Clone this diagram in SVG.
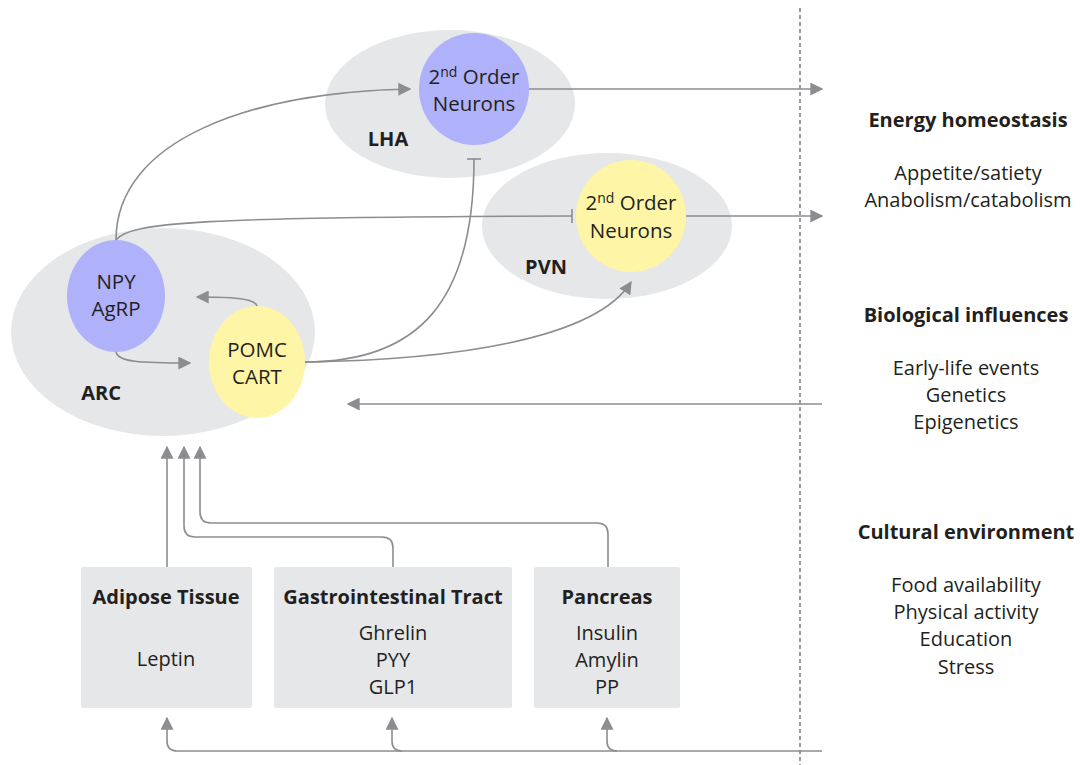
<svg xmlns="http://www.w3.org/2000/svg" width="1080" height="765" viewBox="0 0 1080 765">
<style>
text{font-family:"Open Sans","Noto Sans","Liberation Sans",sans-serif;fill:#231f20;font-size:20px;text-anchor:middle}
.b{font-weight:bold;font-size:20px}
.n{font-size:20.5px}
.region{fill:#e6e7e8}
.purple{fill:#b0b1fb}
.yellow{fill:#fef6a6}
.box{fill:#e6e7e8}
.c{fill:none;stroke:#8c8d90;stroke-width:1.6}
</style>
<defs>
<marker id="arL" viewBox="0 0 10 10" refX="9" refY="5" markerWidth="13" markerHeight="13" markerUnits="userSpaceOnUse" orient="auto"><path d="M0,0 L10,5 L0,10 z" fill="#8c8d90"/></marker>
<marker id="tee" viewBox="0 0 4 14" refX="2" refY="7" markerWidth="4" markerHeight="14" markerUnits="userSpaceOnUse" orient="auto"><path d="M2,0 L2,14" stroke="#8c8d90" stroke-width="1.6"/></marker>
</defs>
<line x1="800" y1="8" x2="800" y2="765" stroke="#9a9b9e" stroke-width="2" stroke-dasharray="4,3"/>
<g id="LHA"><ellipse class="region" cx="450" cy="104" rx="125" ry="74"/><text class="b" x="388" y="146">LHA</text></g>
<g id="PVN"><ellipse class="region" cx="607" cy="226" rx="125" ry="73"/><text class="b" x="546" y="274">PVN</text></g>
<g id="ARC"><ellipse class="region" cx="163" cy="332" rx="152" ry="104"/><text class="b" x="101" y="400">ARC</text></g>
<g id="LHA-neurons"><ellipse class="purple" cx="474" cy="89" rx="55" ry="56"/><text class="n" x="474" y="84">2<tspan dy="-7" font-size="14">nd</tspan><tspan dy="7"> Order</tspan></text><text class="n" x="474" y="111">Neurons</text></g>
<g id="PVN-neurons"><ellipse class="yellow" cx="631" cy="216" rx="55" ry="56"/><text class="n" x="631" y="210">2<tspan dy="-7" font-size="14">nd</tspan><tspan dy="7"> Order</tspan></text><text class="n" x="631" y="238">Neurons</text></g>
<g id="NPY"><ellipse class="purple" cx="116" cy="296" rx="49" ry="56"/><text class="n" x="116" y="289">NPY</text><text class="n" x="116" y="316">AgRP</text></g>
<g id="POMC"><ellipse class="yellow" cx="257" cy="362" rx="48" ry="56"/><text class="n" x="257" y="357">POMC</text><text class="n" x="257" y="384">CART</text></g>
<g id="adipose"><rect class="box" x="81" y="567" width="171" height="141" rx="2"/><text class="b" x="166" y="604">Adipose Tissue</text><text x="166" y="666">Leptin</text></g>
<g id="gi"><rect class="box" x="274" y="567" width="238" height="141" rx="2"/><text class="b" x="393" y="604">Gastrointestinal Tract</text><text x="393" y="640">Ghrelin</text><text x="393" y="667">PYY</text><text x="393" y="694">GLP1</text></g>
<g id="pancreas"><rect class="box" x="534" y="567" width="146" height="141" rx="2"/><text class="b" x="607" y="604">Pancreas</text><text x="607" y="640">Insulin</text><text x="607" y="667">Amylin</text><text x="607" y="694">PP</text></g>
<g id="right-text">
<text class="b" x="968" y="127">Energy homeostasis</text>
<text x="968" y="180">Appetite/satiety</text>
<text x="968" y="207">Anabolism/catabolism</text>
<text class="b" x="966" y="322">Biological influences</text>
<text x="966" y="375">Early-life events</text>
<text x="966" y="402">Genetics</text>
<text x="966" y="429">Epigenetics</text>
<text class="b" x="966" y="539">Cultural environment</text>
<text x="966" y="592">Food availability</text>
<text x="966" y="619">Physical activity</text>
<text x="966" y="646">Education</text>
<text x="966" y="674">Stress</text>
</g>
<g id="connectors">
<path class="c" marker-end="url(#arL)" d="M116,240 C116,140 250,92 410,89"/>
<path class="c" marker-end="url(#arL)" d="M529,89 L822,89"/>
<path class="c" marker-end="url(#arL)" d="M686,216 L822,216"/>
<path class="c" marker-end="url(#tee)" d="M116,240 C130,222 200,217 572,216"/>
<path class="c" marker-end="url(#tee)" d="M305,362 C420,362 474,300 474,159"/>
<path class="c" marker-end="url(#arL)" d="M305,362 C450,360 595,340 631,282"/>
<path class="c" marker-end="url(#arL)" d="M257,306 C255,298 230,297 197,297"/>
<path class="c" marker-end="url(#arL)" d="M116,352 C118,362 140,363 190,363"/>
<path class="c" marker-end="url(#arL)" d="M822,404 L348,404"/>
<path class="c" marker-end="url(#arL)" d="M167,567 L167,447"/>
<path class="c" marker-end="url(#arL)" d="M393,567 L393,548 Q393,537 382,537 L195,537 Q184,537 184,526 L184,447"/>
<path class="c" marker-end="url(#arL)" d="M608,567 L608,534 Q608,523 597,523 L211,523 Q200,523 200,512 L200,447"/>
<path class="c" marker-end="url(#arL)" d="M822,751 L177,751 Q167,751 167,741 L167,718"/>
<path class="c" marker-end="url(#arL)" d="M402,751 Q392,751 392,741 L392,718"/>
<path class="c" marker-end="url(#arL)" d="M617,751 Q607,751 607,741 L607,718"/>
</g>
</svg>
